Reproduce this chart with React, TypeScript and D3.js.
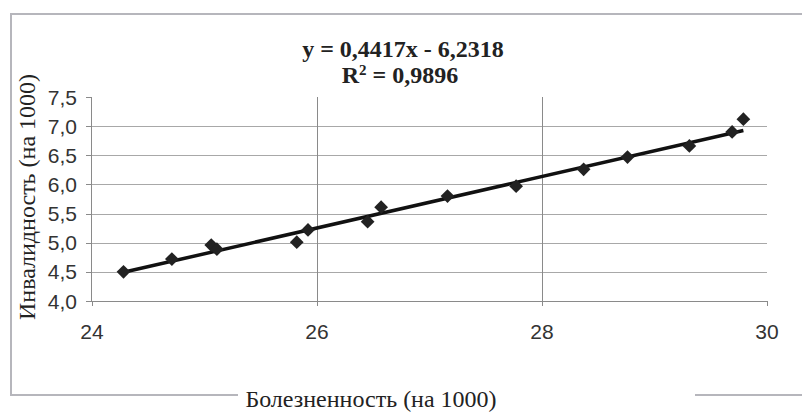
import * as d3 from "d3";

// Болезненность (x) и инвалидность (y), на 1000
const morbidity = [24.28, 24.71, 25.06, 25.11, 25.82, 25.92, 26.45, 26.57, 27.16, 27.77, 28.37, 28.76, 29.31, 29.69, 29.79];
const disability = [4.5, 4.72, 4.96, 4.89, 5.01, 5.22, 5.36, 5.61, 5.8, 5.97, 6.26, 6.47, 6.66, 6.9, 7.12];

const xTicks = [24, 26, 28, 30];
const yTicks = [4.0, 4.5, 5.0, 5.5, 6.0, 6.5, 7.0, 7.5];

const slope = 0.4417;
const intercept = -6.2318;
const equationLabel = "y = 0,4417x - 6,2318";
const r2Value = "0,9896";

const xTitle = "Болезненность (на 1000)";
const yTitle = "Инвалидность (на 1000)";

const W = 802;
const H = 412;

const x = d3.scaleLinear().domain([24, 30]).range([92, 767]);
const y = d3.scaleLinear().domain([4, 7.5]).range([301, 97]);

const fmt = (v: number) => v.toFixed(1).replace(".", ",");

const App = () => {
  const x0 = d3.min(morbidity)!;
  const x1 = d3.max(morbidity)!;
  const trend = d3
    .line<number>()
    .x((d) => x(d))
    .y((d) => y(slope * d + intercept));

  const diamond = d3.symbol().type(d3.symbolDiamond2).size(120)();

  return (
    <svg
      width={W}
      height={H}
      style={{ position: "absolute", left: 0, top: 0, background: "#fff" }}
    >
      {/* outer frame */}
      <rect x={11} y={14} width={820} height={381} fill="none" stroke="#b6b6bc" strokeWidth={2} />
      <rect x={238} y={390} width={457} height={12} fill="#fff" />

      {/* gridlines */}
      <g stroke="#a8a8a8" strokeWidth={1}>
        {yTicks
          .filter((t) => t > 4 && t < 7.5)
          .map((t) => (
            <line key={t} x1={x(24)} x2={x(30)} y1={Math.round(y(t)) + 0.5} y2={Math.round(y(t)) + 0.5} />
          ))}
        {xTicks
          .filter((t) => t > 24 && t < 30)
          .map((t) => (
            <line key={t} x1={Math.round(x(t)) + 0.5} x2={Math.round(x(t)) + 0.5} y1={y(7.5)} y2={y(4)} stroke="#8a8a8a" />
          ))}
      </g>

      {/* axes */}
      <g stroke="#8a8a8a" strokeWidth={1}>
        <line x1={x(24) - 0.5} x2={x(24) - 0.5} y1={y(7.5)} y2={y(4)} />
        <line x1={x(24)} x2={x(30)} y1={Math.round(y(4)) + 0.5} y2={Math.round(y(4)) + 0.5} />
        {yTicks.map((t) => (
          <line key={t} x1={x(24) - 6} x2={x(24)} y1={Math.round(y(t)) + 0.5} y2={Math.round(y(t)) + 0.5} />
        ))}
        {xTicks.map((t) => (
          <line key={t} x1={Math.round(x(t)) + 0.5} x2={Math.round(x(t)) + 0.5} y1={y(4)} y2={y(4) + 5} />
        ))}
      </g>

      {/* tick labels */}
      <g fontFamily="'Liberation Sans', Arial, sans-serif" fontSize={21} fill="#333">
        {yTicks.map((t) => (
          <text key={t} x={77} y={y(t)} dy="0.36em" textAnchor="end">
            {fmt(t)}
          </text>
        ))}
        {xTicks.map((t) => (
          <text key={t} x={x(t)} y={339} textAnchor="middle">
            {t}
          </text>
        ))}
      </g>

      {/* trendline */}
      <path d={trend([x0, x1]) ?? ""} fill="none" stroke="#111" strokeWidth={3.5} />

      {/* points */}
      <g fill="#222">
        {morbidity.map((m, i) => (
          <path key={i} d={diamond ?? ""} transform={`translate(${x(m)},${y(disability[i])})`} />
        ))}
      </g>

      {/* equation */}
      <g fontFamily="'Liberation Serif', 'Times New Roman', serif" fontWeight="bold" fontSize={24} fill="#222" textAnchor="middle">
        <text x={403} y={57}>{equationLabel}</text>
        <text x={400} y={83}>
          R<tspan fontSize={15} dy={-8}>2</tspan>
          <tspan dy={8}>{" = " + r2Value}</tspan>
        </text>
      </g>

      {/* axis titles */}
      <g fontFamily="'Liberation Serif', 'Times New Roman', serif" fontSize={24} fill="#222">
        <text x={371} y={407} textAnchor="middle">{xTitle}</text>
        <text transform={`translate(35,197) rotate(-90)`} textAnchor="middle">{yTitle}</text>
      </g>
    </svg>
  );
};

export default App;
